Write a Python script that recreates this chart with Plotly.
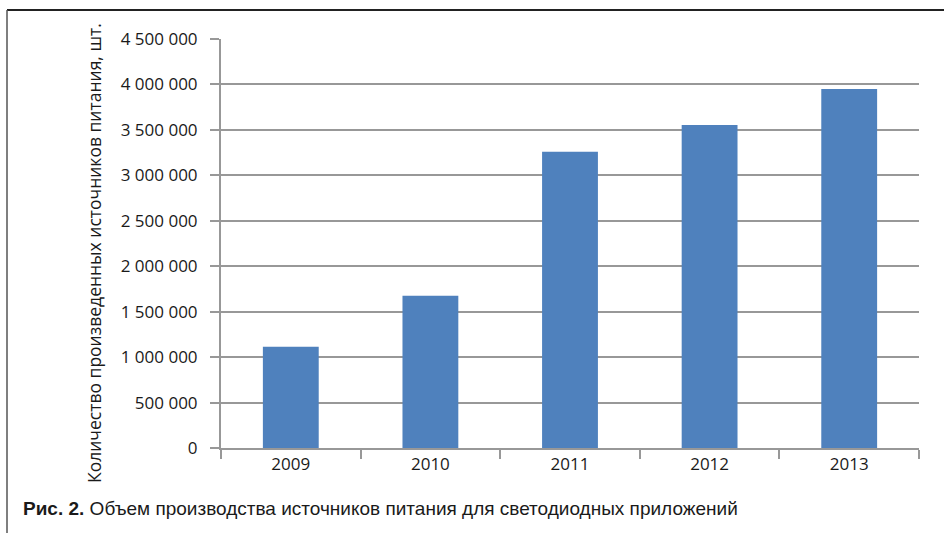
import plotly.graph_objects as go

years = ["2009", "2010", "2011", "2012", "2013"]
volumes = [1115000, 1675000, 3260000, 3555000, 3950000]
y_ticks = [0, 500000, 1000000, 1500000, 2000000, 2500000, 3000000, 3500000, 4000000, 4500000]
y_tick_labels = ["0", "500 000", "1 000 000", "1 500 000", "2 000 000", "2 500 000",
                 "3 000 000", "3 500 000", "4 000 000", "4 500 000"]
y_title = "Количество произведенных источников питания, шт."
caption_bold = "Рис. 2."
caption_text = " Объем производства источников питания для светодиодных приложений"

W, H = 944, 533
L, R, T, B = 221, 25, 39, 85
pw, ph = W - L - R, H - T - B

def px(x):
    return (x - L) / pw

def py(y):
    return (H - B - y) / ph

grid = "#989898"
fig = go.Figure(go.Bar(x=years, y=volumes, marker_color="#4F81BD", marker_line_width=0, width=0.4))

fig.update_layout(
    width=W, height=H,
    margin=dict(l=L, r=R, t=T, b=B),
    paper_bgcolor="white", plot_bgcolor="white",
    showlegend=False,
    font=dict(family="Open Sans", size=17, color="#1a1a1a"),
    xaxis=dict(
        type="category", showgrid=False, showline=True, linecolor=grid, linewidth=2,
        ticks="outside", tickson="boundaries", ticklen=9, tickcolor=grid, tickwidth=2,
        tickfont=dict(size=17), fixedrange=True,
    ),
    yaxis=dict(
        range=[0, 4500000], tickvals=y_ticks, ticktext=y_tick_labels,
        showgrid=True, gridcolor=grid, gridwidth=2,
        showline=True, linecolor=grid, linewidth=2,
        ticks="outside", ticklen=9, tickcolor=grid, tickwidth=2,
        ticklabelstandoff=9, tickfont=dict(size=17), zeroline=False, fixedrange=True,
    ),
    annotations=[
        dict(text=y_title, textangle=-90, xref="paper", yref="paper",
             x=px(94), y=py(253), xanchor="center", yanchor="middle",
             showarrow=False, font=dict(size=17.5, color="#1a1a1a")),
        dict(text="<b>" + caption_bold + "</b>" + caption_text, xref="paper", yref="paper",
             x=px(21), y=py(508), xanchor="left", yanchor="middle", showarrow=False,
             font=dict(family="Liberation Sans Narrow, Arial Narrow, sans-serif", size=19, color="#1a1a1a")),
    ],
    shapes=[
        dict(type="line", xref="paper", yref="paper", x0=px(7), x1=px(950), y0=py(10), y1=py(10),
             line=dict(color="#222222", width=2)),
        dict(type="line", xref="paper", yref="paper", x0=px(7), x1=px(7), y0=py(10), y1=py(540),
             line=dict(color="#555555", width=1.5)),
    ],
)

fig.write_html("out.html", config={"displayModeBar": False})
